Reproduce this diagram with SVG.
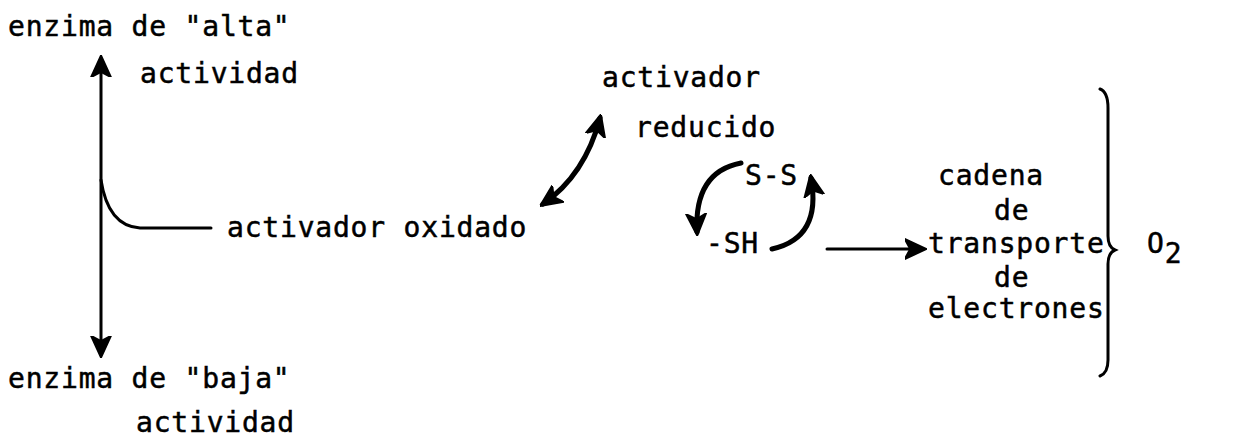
<svg xmlns="http://www.w3.org/2000/svg" width="1246" height="439" viewBox="0 0 1246 439">
  <style>
    text { font-family: "DejaVu Sans Mono", "Liberation Mono", monospace; font-size: 28px; letter-spacing: 0.8px; fill: #000; stroke: #000; stroke-width: 0.5px; }
    .ln { fill: none; stroke: #000; stroke-width: 3; stroke-linecap: round; }
    .bold { stroke-width: 5; }
  </style>
  <defs>
    <marker id="head" viewBox="0 0 12 12" refX="10" refY="6" markerWidth="22" markerHeight="22" markerUnits="userSpaceOnUse" orient="auto-start-reverse">
      <path d="M0,0.5 L12,6 L0,11.5 L3,6 z" fill="#000" stroke="#000" stroke-width="1" stroke-linejoin="round"/>
    </marker>
  </defs>
  <rect width="1246" height="439" fill="#fff"/>

  <g id="connectors">
    <!-- enzyme activity axis -->
    <line class="ln" x1="101" y1="59" x2="101" y2="354" marker-start="url(#head)" marker-end="url(#head)"/>
    <!-- oxidised activator joins the axis -->
    <path class="ln" d="M101,180 Q108,226 140,228 L211,228"/>
    <!-- oxidised / reduced activator -->
    <path class="ln bold" d="M600,118 Q585,175 543,204" marker-start="url(#head)" marker-end="url(#head)"/>
    <!-- S-S to -SH -->
    <path class="ln bold" d="M741,163 Q694,172 697,232" marker-end="url(#head)"/>
    <!-- -SH back to S-S -->
    <path class="ln bold" d="M772,249 Q822,238 811,178" marker-end="url(#head)"/>
    <!-- -SH to the electron transport chain -->
    <line class="ln" x1="827" y1="249" x2="923" y2="249" marker-end="url(#head)"/>
    <!-- brace grouping the chain -->
    <path class="ln" d="M1100,89 Q1108,92 1108,108 L1108,236 Q1108,247 1115,250 Q1108,253 1108,264 L1108,360 Q1108,373 1100,376"/>
  </g>

  <g id="enzima-alta">
    <text x="8" y="36">enzima de "alta"</text>
    <text x="140" y="83">actividad</text>
  </g>
  <g id="enzima-baja">
    <text x="8" y="388">enzima de "baja"</text>
    <text x="136" y="432">actividad</text>
  </g>
  <g id="activador-oxidado">
    <text x="227" y="237">activador oxidado</text>
  </g>
  <g id="activador-reducido">
    <text x="602" y="87">activador</text>
    <text x="635" y="137">reducido</text>
  </g>
  <g id="disulfuro">
    <text x="745" y="185" letter-spacing="-1">S-S</text>
  </g>
  <g id="tiol">
    <text x="706" y="253">-SH</text>
  </g>
  <g id="cadena">
    <text x="938" y="185">cadena</text>
    <text x="994" y="220">de</text>
    <text x="928" y="253">transporte</text>
    <text x="994" y="287">de</text>
    <text x="928" y="318">electrones</text>
  </g>
  <g id="oxigeno">
    <text x="1147" y="253">O<tspan dy="10">2</tspan></text>
  </g>
</svg>
